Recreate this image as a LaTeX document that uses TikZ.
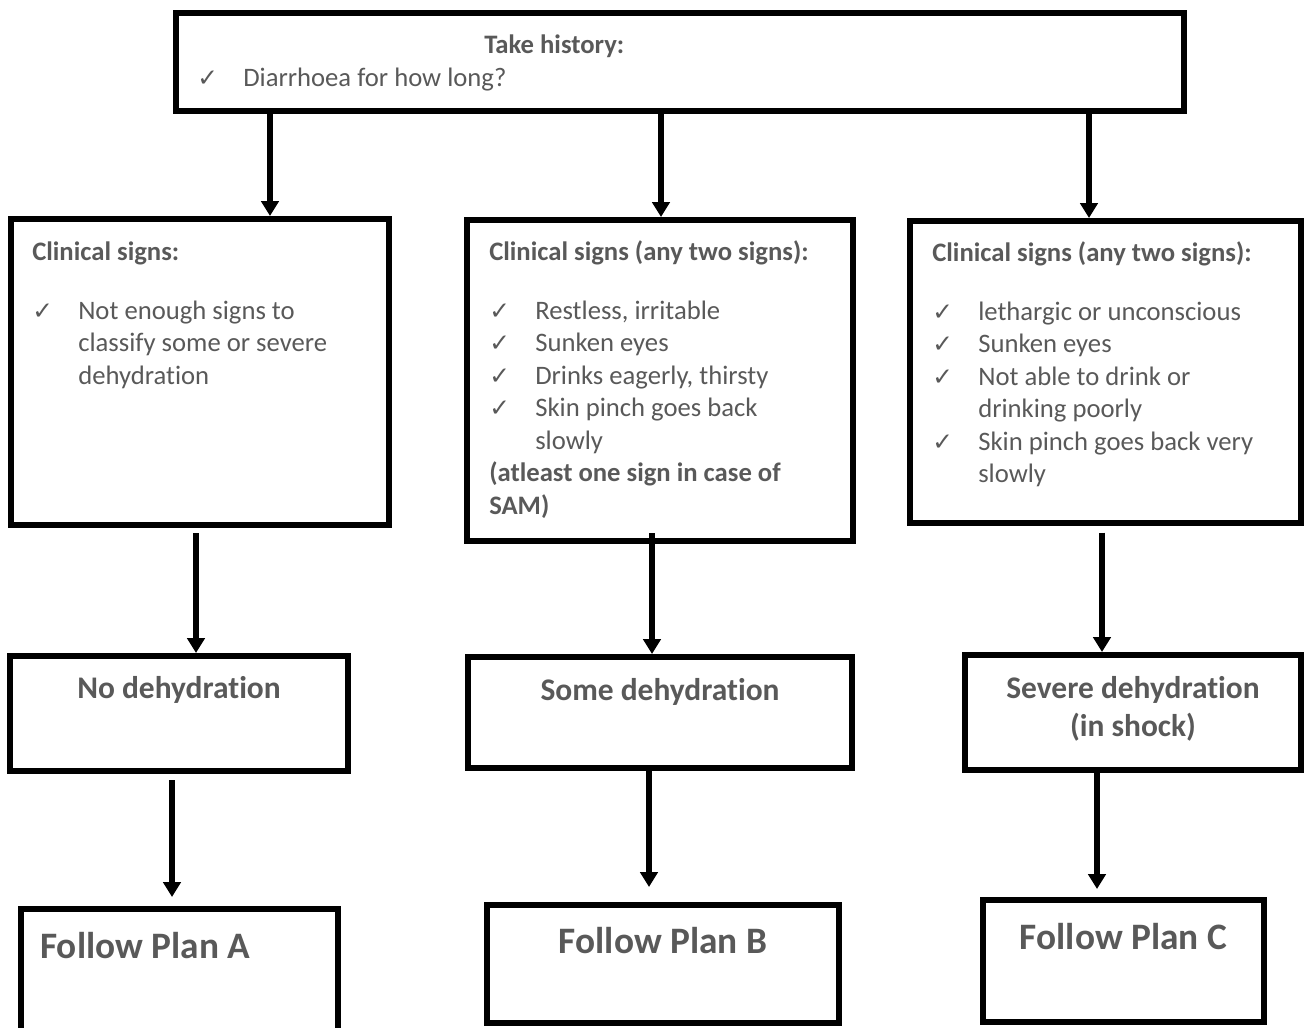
\documentclass[tikz,border=0pt]{standalone}
\usepackage{fontspec}
\setmainfont{Carlito}[Ligatures={NoCommon}]
\newfontfamily\checkfont{DejaVu Sans}
\usepackage{tikz}
\usetikzlibrary{arrows.meta}
\usepackage{xcolor}
\definecolor{textgray}{RGB}{89,89,89}
\newcommand{\chkmark}{{\checkfont\fontsize{18.5}{18.5}\selectfont ✓}}

\begin{document}
\begin{tikzpicture}[
  x=0.75pt, y=-0.75pt,
  box/.style={draw, line width=4.5pt, inner sep=0pt},
  txt/.style={text=textgray, inner sep=0pt, anchor=base west, font=\fontsize{20}{24.4}\selectfont},
  result/.style={text=textgray, inner sep=0pt, anchor=base, font=\bfseries\fontsize{23.6}{28.5}\selectfont},
  plan/.style={text=textgray, inner sep=0pt, font=\bfseries\fontsize{28}{34}\selectfont},
  arrow/.style={-{Triangle[length=11.25pt, width=13pt]}, line width=4pt}
]
\useasboundingbox (0,0) rectangle (1304,1028);

% boxes
\node[box, minimum width=756pt, minimum height=73.5pt] (hist) at (680,62) {};
\node[box, minimum width=283.5pt, minimum height=229.5pt] (signA) at (200,372) {};
\node[box, minimum width=289.5pt, minimum height=240.75pt] (signB) at (660,380.5) {};
\node[box, minimum width=293.25pt, minimum height=226.5pt] (signC) at (1105.5,372) {};
\node[box, minimum width=253.5pt, minimum height=86.25pt] (dehA) at (179,713.5) {};
\node[box, minimum width=288pt, minimum height=83.25pt] (dehB) at (660,712.5) {};
\node[box, minimum width=252pt, minimum height=86.25pt] (dehC) at (1133,712.5) {};
\node[box, minimum width=237.75pt, minimum height=94.5pt] (planA) at (179.5,972) {};
\node[box, minimum width=264pt, minimum height=88.5pt] (planB) at (663,964) {};
\node[box, minimum width=210.75pt, minimum height=91.5pt] (planC) at (1123.5,961) {};

% history
\node[txt] (histhead) at ([shift={(311,43)}]hist.north west) {\bfseries Take history:};
\node[txt] (histitem) at ([shift={(24,76)}]hist.north west)
  {\begin{tabular}[t]{@{}p{34.5pt}@{}l@{}}\chkmark & Diarrhoea for how long?\end{tabular}};

% clinical signs
\node[txt] (signAtext) at ([shift={(24,44)}]signA.north west)
  {\begin{tabular}[t]{@{}p{34.5pt}@{}l@{}}
   \multicolumn{2}{@{}l@{}}{\bfseries Clinical signs:}\\[19.9pt]
   \chkmark & Not enough signs to\\
            & classify some or severe\\
            & dehydration
   \end{tabular}};
\node[txt] (signBtext) at ([shift={(25,43)}]signB.north west)
  {\begin{tabular}[t]{@{}p{34.5pt}@{}l@{}}
   \multicolumn{2}{@{}l@{}}{\bfseries Clinical signs (any two signs):}\\[19.9pt]
   \chkmark & Restless, irritable\\
   \chkmark & Sunken eyes\\
   \chkmark & Drinks eagerly, thirsty\\
   \chkmark & Skin pinch goes back\\
            & slowly\\
   \multicolumn{2}{@{}l@{}}{\bfseries (atleast one sign in case of}\\
   \multicolumn{2}{@{}l@{}}{\bfseries SAM)}
   \end{tabular}};
\node[txt] (signCtext) at ([shift={(25,43)}]signC.north west)
  {\begin{tabular}[t]{@{}p{34.5pt}@{}l@{}}
   \multicolumn{2}{@{}l@{}}{\bfseries Clinical signs (any two signs):}\\[19.9pt]
   \chkmark & lethargic or unconscious\\
   \chkmark & Sunken eyes\\
   \chkmark & Not able to drink or\\
            & drinking poorly\\
   \chkmark & Skin pinch goes back very\\
            & slowly
   \end{tabular}};

% classification
\node[result] (dehAtext) at ([shift={(0,45)}]dehA.north) {No dehydration};
\node[result] (dehBtext) at ([shift={(0,46)}]dehB.north) {Some dehydration};
\node[result] (dehCtext) at ([shift={(0,46)}]dehC.north)
  {\begin{tabular}[t]{@{}c@{}}Severe dehydration\\(in shock)\end{tabular}};

% plans
\node[plan, anchor=base west] (planAtext) at ([shift={(22,52)}]planA.north west) {Follow Plan A};
\node[plan, anchor=base] (planBtext) at ([shift={(0,51)}]planB.north) {Follow Plan B};
\node[plan, anchor=base] (planCtext) at ([shift={(0,52)}]planC.north) {Follow Plan C};

% arrows
\draw[arrow] ([shift={(-410,0)}]hist.south) -- ([shift={(70,0)}]signA.north);
\draw[arrow] ([shift={(-19,0)}]hist.south) -- ([shift={(1,0)}]signB.north);
\draw[arrow] ([shift={(409,0)}]hist.south) -- ([shift={(-16.5,0)}]signC.north);

\draw[arrow, shorten <=3.75pt] ([shift={(-4,0)}]signA.south) -- ([shift={(17,0)}]dehA.north);
\draw[arrow, shorten <=-8pt] ([shift={(-8,0)}]signB.south) -- ([shift={(-8,0)}]dehB.north);
\draw[arrow, shorten <=5pt] ([shift={(-3.5,0)}]signC.south) -- ([shift={(-31,0)}]dehC.north);

\draw[arrow, shorten <=4.5pt, shorten >=6.75pt] ([shift={(-7,0)}]dehA.south) -- ([shift={(-7.5,0)}]planA.north);
\draw[arrow, shorten >=11.25pt] ([shift={(-11,0)}]dehB.south) -- ([shift={(-14,0)}]planB.north);
\draw[arrow, shorten >=6pt] ([shift={(-36,0)}]dehC.south) -- ([shift={(-26.5,0)}]planC.north);

\end{tikzpicture}
\end{document}
